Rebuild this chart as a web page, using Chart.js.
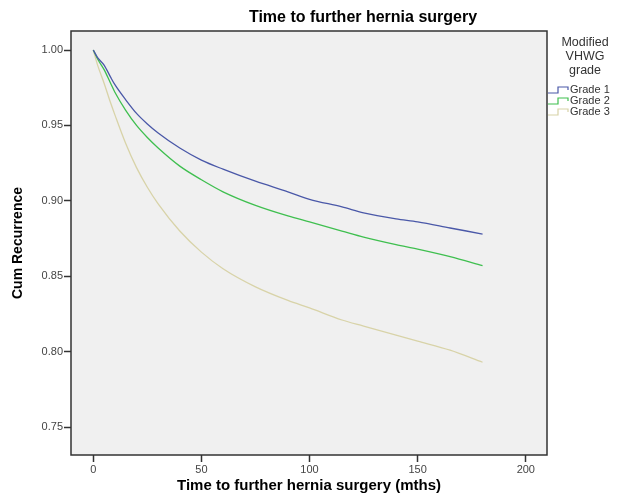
<!DOCTYPE html>
<html><head><meta charset="utf-8">
<script src="https://cdn.jsdelivr.net/npm/chart.js@4"></script>
<style>html,body{margin:0;padding:0;background:#fff}#w{width:627px;height:495px}</style>
</head><body><div id="w"><canvas id="c"></canvas></div>
<script>
const chartTitle = "Time to further hernia surgery";
const xTitle = "Time to further hernia surgery (mths)";
const yTitle = "Cum Recurrence";
const legendTitle = ["Modified", "VHWG", "grade"];
const seriesNames = ["Grade 1", "Grade 2", "Grade 3"];
const seriesColors = ["#4a58a8", "#3fbf4f", "#d8d3a8"];
const times = [0,2,5,8,10,15,20,25,30,40,50,60,75,90,100,115,125,140,150,165,180];
const grade1 = [1.0,0.995,0.99,0.982,0.977,0.967,0.958,0.951,0.945,0.935,0.927,0.921,0.913,0.906,0.901,0.896,0.892,0.888,0.886,0.882,0.878];
const grade2 = [1.0,0.994,0.987,0.978,0.972,0.960,0.950,0.942,0.935,0.923,0.914,0.906,0.897,0.890,0.886,0.880,0.876,0.871,0.868,0.863,0.857];
const grade3 = [1.0,0.99,0.978,0.965,0.957,0.938,0.922,0.909,0.898,0.880,0.866,0.855,0.843,0.834,0.829,0.821,0.817,0.811,0.807,0.801,0.793];
const xTicks = [0,50,100,150,200];
const yTicks = [0.75,0.80,0.85,0.90,0.95,1.00];

const allSeries = [grade1, grade2, grade3];
const datasets = allSeries.map((s, i) => ({
  label: seriesNames[i],
  data: times.map((t, j) => ({x: t, y: s[j]})),
  borderColor: seriesColors[i],
  borderWidth: 1.3,
  pointRadius: 0,
  cubicInterpolationMode: 'monotone',
  fill: false
}));

const deco = {
  id: 'deco',
  beforeDraw(chart) {
    const {ctx, chartArea: a} = chart;
    ctx.save();
    ctx.fillStyle = '#f0f0f0';
    ctx.fillRect(a.left, a.top, a.right - a.left, a.bottom - a.top);
    ctx.restore();
  },
  afterDraw(chart) {
    const {ctx, chartArea: a} = chart;
    ctx.save();
    ctx.strokeStyle = '#333';
    ctx.lineWidth = 1.5;
    ctx.strokeRect(a.left, a.top, a.right - a.left, a.bottom - a.top);
    ctx.fillStyle = '#000';
    ctx.font = 'bold 16px "Liberation Sans", Arial, sans-serif';
    ctx.textAlign = 'center';
    ctx.textBaseline = 'middle';
    ctx.fillText(chartTitle, 363, 18);
    ctx.fillStyle = '#333';
    ctx.font = '12.5px "Liberation Sans", Arial, sans-serif';
    legendTitle.forEach((t, i) => ctx.fillText(t, 585, 43 + i * 14));
    ctx.font = '11px "Liberation Sans", Arial, sans-serif';
    ctx.textAlign = 'left';
    seriesNames.forEach((n, i) => {
      const y = 90 + i * 11;
      ctx.strokeStyle = seriesColors[i];
      ctx.lineWidth = 1.2;
      ctx.beginPath();
      ctx.moveTo(548, y + 3);
      ctx.lineTo(558, y + 3);
      ctx.lineTo(558, y - 3);
      ctx.lineTo(568, y - 3);
      ctx.lineTo(568, y);
      ctx.stroke();
      ctx.fillStyle = '#333';
      ctx.fillText(n, 570, y);
    });
    ctx.restore();
  }
};

new Chart(document.getElementById('c'), {
  type: 'line',
  data: {datasets},
  options: {
    responsive: true,
    maintainAspectRatio: false,
    animation: false,
    layout: {padding: {top: 31, right: 80, left: 10, bottom: 0}},
    plugins: {legend: {display: false}, tooltip: {enabled: false}, title: {display: false}},
    scales: {
      x: {
        type: 'linear', min: -10.3, max: 209.8,
        afterBuildTicks(s) { s.ticks = xTicks.map(v => ({value: v})); },
        afterFit(s) { s.height = 40; },
        grid: {drawOnChartArea: false, drawTicks: true, tickLength: 7, color: '#333', tickWidth: 1.5},
        border: {display: false},
        ticks: {color: '#444', font: {size: 11, family: '"Liberation Sans", Arial, sans-serif'}, padding: 1, maxRotation: 0},
        title: {display: true, text: xTitle, color: '#000', font: {size: 15, weight: 'bold', family: '"Liberation Sans", Arial, sans-serif'}, padding: {top: 3, bottom: 0}}
      },
      y: {
        type: 'linear', min: 0.7315, max: 1.0126,
        afterBuildTicks(s) { s.ticks = yTicks.map(v => ({value: v})); },
        afterFit(s) { s.width = 61; },
        grid: {drawOnChartArea: false, drawTicks: true, tickLength: 7, color: '#333', tickWidth: 1.5},
        border: {display: false},
        ticks: {color: '#444', font: {size: 11, family: '"Liberation Sans", Arial, sans-serif'}, padding: 1, callback: v => v.toFixed(2)},
        title: {display: true, text: yTitle, color: '#000', font: {size: 14, weight: 'bold', family: '"Liberation Sans", Arial, sans-serif'}, padding: {top: 0, bottom: 4}}
      }
    }
  },
  plugins: [deco]
});
</script></body></html>
